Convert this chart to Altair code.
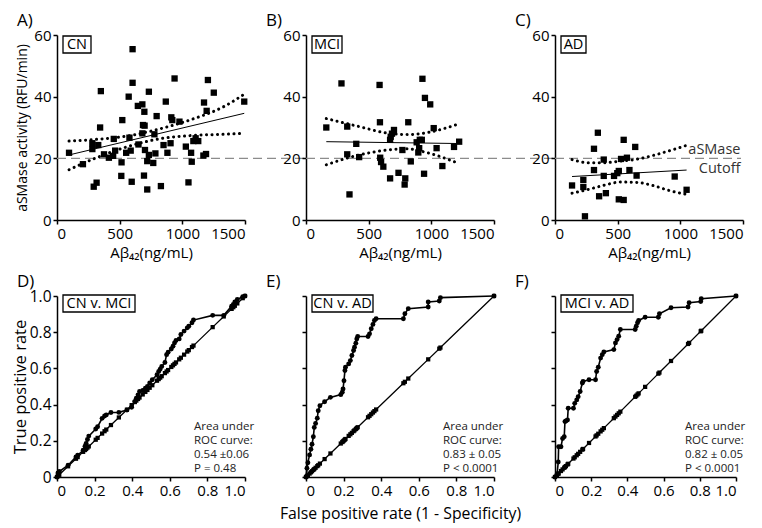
import altair as alt
import pandas as pd

FONT = "Open Sans"

# ---------------- top row: aSMase activity vs Abeta42 ----------------
cn_abeta = [96, 207, 293, 316, 282, 282, 329, 344, 350, 375, 414, 448, 453, 464, 521, 515,
            513, 552, 578, 572, 588, 596, 603, 603, 645, 650, 681, 681, 686, 697, 702, 699,
            694, 720, 720, 733, 733, 768, 777, 785, 795, 829, 850, 868, 881, 906, 912, 920,
            938, 977, 1028, 1049, 1070, 1075, 1088, 1106, 1127, 1168, 1189, 1173, 1194, 1204,
            1251, 1494]
cn_asm = [21.8, 18.1, 10.8, 12.1, 24.9, 23.0, 24.3, 30.0, 41.8, 21.3, 20.2, 20.8, 26.3, 22.5,
          32.4, 18.7, 14.3, 21.8, 26.7, 40.0, 22.5, 12.4, 55.4, 44.5, 37.0, 24.5, 37.5, 28.1,
          30.8, 35.1, 22.7, 30.6, 14.4, 9.9, 19.1, 41.6, 21.1, 18.5, 27.8, 21.6, 33.7, 11.0,
          24.3, 38.4, 21.8, 24.9, 33.3, 32.4, 45.9, 31.9, 23.8, 12.2, 21.8, 18.9, 25.6, 26.5,
          25.6, 20.9, 21.4, 38.1, 35.4, 45.4, 41.3, 38.4]
cn_ci_x = [96, 297, 556, 815, 1073, 1332, 1494]
cn_ci_up = [25.6, 26.1, 27.2, 29.5, 32.6, 36.8, 40.8]
cn_ci_lo = [16.3, 19.9, 23.7, 26.3, 27.4, 27.8, 28.1]
cn_fit_x = [96, 1494]
cn_fit_y = [21.1, 34.6]

mci_abeta = [162, 283, 329, 329, 347, 401, 424, 587, 590, 592, 599, 617, 671, 671, 676, 686,
             702, 738, 769, 792, 787, 816, 836, 883, 896, 903, 908, 924, 929, 942, 949, 991,
             1019, 1042, 1088, 1181, 1222]
mci_asm = [30.0, 44.3, 30.3, 21.3, 8.3, 24.7, 20.4, 43.8, 31.7, 20.2, 18.8, 17.3, 13.5, 26.0,
           27.0, 28.0, 29.2, 15.3, 22.7, 13.5, 11.5, 31.7, 19.0, 25.2, 21.9, 23.3, 26.0, 26.0,
           45.8, 15.0, 39.6, 37.5, 29.8, 23.3, 17.5, 23.7, 25.4]
mci_ci_x = [162, 394, 651, 805, 960, 1222]
mci_ci_up = [32.9, 30.6, 28.2, 27.7, 28.3, 31.2]
mci_ci_lo = [17.9, 20.8, 22.7, 23.1, 21.9, 18.3]
mci_fit_x = [162, 1222]
mci_fit_y = [25.4, 24.8]

ad_abeta = [136, 226, 226, 239, 311, 311, 342, 352, 389, 389, 406, 471, 497, 509, 509, 527,
            548, 548, 574, 594, 640, 651, 955, 1050]
ad_asm = [11.2, 13.0, 10.7, 1.2, 23.1, 16.2, 28.3, 7.7, 19.6, 14.3, 8.7, 14.3, 15.2, 15.9,
          6.7, 19.8, 26.0, 6.5, 20.2, 16.2, 23.7, 14.4, 14.1, 9.8]
ad_ci_x = [136, 265, 394, 522, 651, 780, 908, 1050]
ad_ci_up = [19.6, 18.6, 18.6, 19.1, 19.7, 20.9, 22.4, 24.2]
ad_ci_lo = [8.7, 9.9, 11.3, 12.3, 12.2, 11.2, 9.6, 8.3]
ad_fit_x = [136, 1050]
ad_fit_y = [14.1, 16.2]

cutoff_value = 20
cutoff_labels = ["aSMase", "Cutoff"]
cutoff_label_y = [22.6, 16.4]
cutoff_label_x = [1480, 1480]

# ---------------- bottom row: ROC curves ----------------
d_fpr = [0, 0.005, 0.012, 0.059, 0.101, 0.110, 0.139, 0.149, 0.155, 0.162, 0.169, 0.206, 0.216,
         0.240, 0.253, 0.262, 0.287, 0.329, 0.372, 0.397, 0.414, 0.422, 0.431, 0.439, 0.456,
         0.470, 0.481, 0.493, 0.507, 0.532, 0.541, 0.549, 0.557, 0.574, 0.583, 0.591, 0.608,
         0.617, 0.625, 0.633, 0.650, 0.659, 0.676, 0.693, 0.701, 0.718, 0.726, 0.828, 0.887,
         0.929, 0.938, 0.946, 0.959, 0.988, 1.0]
d_tpr = [0, 0.022, 0.030, 0.065, 0.111, 0.120, 0.148, 0.170, 0.185, 0.207, 0.226, 0.265, 0.278,
         0.324, 0.337, 0.343, 0.356, 0.357, 0.370, 0.385, 0.417, 0.435, 0.454, 0.472, 0.478,
         0.491, 0.500, 0.519, 0.537, 0.565, 0.583, 0.596, 0.611, 0.633, 0.676, 0.689, 0.707,
         0.722, 0.741, 0.754, 0.763, 0.787, 0.806, 0.824, 0.833, 0.852, 0.867, 0.893, 0.893,
         0.944, 0.954, 0.967, 0.981, 0.996, 1.0]

e_fpr = [0, 0.005, 0.010, 0.019, 0.026, 0.032, 0.039, 0.044, 0.051, 0.060, 0.065, 0.074, 0.099,
         0.130, 0.185, 0.193, 0.197, 0.202, 0.207, 0.210, 0.227, 0.236, 0.244, 0.253, 0.258,
         0.265, 0.270, 0.275, 0.330, 0.338, 0.347, 0.356, 0.364, 0.373, 0.518, 0.526, 0.544,
         0.650, 0.650, 0.709, 0.715, 1.0]
e_tpr = [0, 0.048, 0.079, 0.122, 0.153, 0.181, 0.222, 0.274, 0.296, 0.325, 0.366, 0.394, 0.416,
         0.440, 0.455, 0.468, 0.486, 0.532, 0.588, 0.606, 0.625, 0.643, 0.671, 0.699, 0.717,
         0.739, 0.763, 0.776, 0.776, 0.791, 0.819, 0.843, 0.865, 0.874, 0.874, 0.902, 0.930,
         0.939, 0.967, 0.972, 0.991, 1.0]

f_fpr = [0, 0.011, 0.018, 0.020, 0.033, 0.042, 0.051, 0.055, 0.060, 0.069, 0.073, 0.102, 0.109,
         0.120, 0.128, 0.139, 0.151, 0.155, 0.188, 0.224, 0.230, 0.239, 0.252, 0.261, 0.270,
         0.325, 0.334, 0.343, 0.352, 0.361, 0.443, 0.449, 0.456, 0.462, 0.498, 0.571, 0.577,
         0.641, 0.735, 0.741, 0.805, 0.808, 1.0]
f_tpr = [0, 0.013, 0.083, 0.167, 0.167, 0.213, 0.222, 0.306, 0.309, 0.315, 0.380, 0.380, 0.407,
         0.426, 0.444, 0.472, 0.519, 0.528, 0.537, 0.537, 0.583, 0.606, 0.657, 0.676, 0.691,
         0.704, 0.741, 0.759, 0.778, 0.815, 0.815, 0.833, 0.852, 0.865, 0.883, 0.883, 0.902,
         0.935, 0.939, 0.963, 0.969, 0.985, 1.0]

roc_notes = [
    ["Area under", "ROC curve:", "0.54 \u00b10.06", "P = 0.48"],
    ["Area under", "ROC curve:", "0.83 \u00b1 0.05", "P < 0.0001"],
    ["Area under", "ROC curve:", "0.82 \u00b1 0.05", "P < 0.0001"],
]
panel_letters = ["A)", "B)", "C)", "D)", "E)", "F)"]
group_labels = ["CN", "MCI", "AD", "CN v. MCI", "CN v. AD", "MCI v. AD"]

X_TITLE_TOP = "A\u03b2\u2084\u2082(ng/mL)"
Y_TITLE_TOP = "aSMase activity (RFU/min)"
X_TITLE_BOT = "False positive rate (1 - Specificity)"
Y_TITLE_BOT = "True positive rate"

# ---------------- layout / style ----------------
W = 188
W_F = 181
H_TOP = 185
H_BOT = 181
GAP_X = 61
GAP_Y = 76
BOX_W = {"CN": 28, "MCI": 30, "AD": 25, "CN v. MCI": 72, "CN v. AD": 61, "MCI v. AD": 72}
NOTE_Y = [131, 145, 159, 173]

one = pd.DataFrame({"k": [0]})


def letter_layer(letter):
    return alt.Chart(one).mark_text(
        align="left", baseline="top", font=FONT, fontSize=17, color="black"
    ).encode(x=alt.value(-40), y=alt.value(-22), text=alt.value(letter))


def box_layers(label, top):
    bw = BOX_W[label]
    rect = alt.Chart(one).mark_rect(fill="white", stroke="black", strokeWidth=1.3).encode(
        x=alt.value(6), x2=alt.value(6 + bw), y=alt.value(top), y2=alt.value(top + 17)
    )
    txt = alt.Chart(one).mark_text(
        align="center", baseline="middle", font=FONT, fontSize=14.5, color="black"
    ).encode(x=alt.value(6 + bw / 2), y=alt.value(top + 9), text=alt.value(label))
    return rect + txt


def scatter_panel(idx, xs, ys, cx, cu, cl, fx, fy, rule_x2, ytitle):
    X = alt.X("x:Q", scale=alt.Scale(domain=[0, 1500], nice=False),
              axis=alt.Axis(values=[0, 500, 1000, 1500], format="d", title=X_TITLE_TOP,
                            titlePadding=4, labelFontSize=15, titleFontSize=15))
    Y = alt.Y("y:Q", scale=alt.Scale(domain=[0, 60], nice=False),
              axis=alt.Axis(values=[0, 20, 40, 60], title=ytitle, titlePadding=4,
                            labelFontSize=15, titleFontSize=14))
    pts = pd.DataFrame({"x": xs, "y": ys})
    ci = pd.DataFrame({"x": cx + cx, "y": cu + cl,
                       "band": ["upper"] * len(cx) + ["lower"] * len(cx)})
    fit = pd.DataFrame({"x": fx, "y": fy})
    rule_df = pd.DataFrame({"y": [cutoff_value]})

    rule = alt.Chart(rule_df).mark_rule(
        color="#8c8c8c", strokeDash=[9, 5], strokeWidth=1.3
    ).encode(y=Y, x=alt.value(0), x2=alt.value(rule_x2))
    ci_l = alt.Chart(ci).mark_line(
        color="black", strokeDash=[0.1, 5.4], strokeWidth=3, strokeCap="round",
        interpolate="monotone"
    ).encode(x=X, y=Y, detail="band:N")
    fit_l = alt.Chart(fit).mark_line(color="black", strokeWidth=1).encode(x=X, y=Y)
    pts_l = alt.Chart(pts).mark_square(size=40, color="black", opacity=1).encode(x=X, y=Y)
    layers = [rule, ci_l, fit_l, pts_l, box_layers(group_labels[idx], 1),
              letter_layer(panel_letters[idx])]
    if idx == 2:
        lab = pd.DataFrame({"x": cutoff_label_x, "y": cutoff_label_y, "t": cutoff_labels})
        layers.append(
            alt.Chart(lab).mark_text(align="right", baseline="middle", font=FONT,
                                     fontSize=14.5, color="#333333")
            .encode(x=X, y=Y, text="t:N")
        )
    return alt.layer(*layers).properties(width=W, height=H_TOP)


def roc_panel(idx, fpr, tpr, note, width, xtitle, ytitle, ylabels):
    lab_expr = "datum.value == 0 ? '0' : format(datum.value, '.1f')"
    X = alt.X("x:Q", scale=alt.Scale(domain=[0, 1], nice=False),
              axis=alt.Axis(values=[0, 0.2, 0.4, 0.6, 0.8, 1.0], title=xtitle, titlePadding=8,
                            labelFontSize=15, titleFontSize=15.8, labelExpr=lab_expr))
    Y = alt.Y("y:Q", scale=alt.Scale(domain=[0, 1], nice=False),
              axis=alt.Axis(values=[0, 0.2, 0.4, 0.6, 0.8, 1.0], title=ytitle, titlePadding=1,
                            labels=ylabels, labelFontSize=15.5, titleFontSize=16.5,
                            labelExpr=lab_expr))
    roc = pd.DataFrame({"x": fpr, "y": tpr, "i": list(range(len(fpr)))})
    ux = sorted(set(fpr))
    diag = pd.DataFrame({"x": ux, "y": ux})

    diag_l = alt.Chart(diag).mark_line(color="black", strokeWidth=1.3).encode(x=X, y=Y)
    diag_p = alt.Chart(diag).mark_square(size=18, color="black", opacity=1).encode(x=X, y=Y)
    roc_l = alt.Chart(roc).mark_line(color="black", strokeWidth=1.6).encode(
        x=X, y=Y, order="i:Q")
    roc_p = alt.Chart(roc).mark_circle(size=24, color="black", opacity=1).encode(x=X, y=Y)
    note_layers = [
        alt.Chart(one).mark_text(
            align="left", baseline="middle", font=FONT, fontSize=11.5, color="#222222"
        ).encode(x=alt.value(width - 51), y=alt.value(ny), text=alt.value(line))
        for line, ny in zip(note, NOTE_Y)
    ]
    return alt.layer(
        diag_l, diag_p, roc_l, roc_p, *note_layers,
        box_layers(group_labels[idx], -1), letter_layer(panel_letters[idx])
    ).properties(width=width, height=H_BOT)


pA = scatter_panel(0, cn_abeta, cn_asm, cn_ci_x, cn_ci_up, cn_ci_lo, cn_fit_x, cn_fit_y,
                   W + GAP_X, Y_TITLE_TOP)
pB = scatter_panel(1, mci_abeta, mci_asm, mci_ci_x, mci_ci_up, mci_ci_lo, mci_fit_x, mci_fit_y,
                   W + GAP_X, None)
pC = scatter_panel(2, ad_abeta, ad_asm, ad_ci_x, ad_ci_up, ad_ci_lo, ad_fit_x, ad_fit_y,
                   W - 2, None)
pD = roc_panel(3, d_fpr, d_tpr, roc_notes[0], W, None, Y_TITLE_BOT, True)
pE = roc_panel(4, e_fpr, e_tpr, roc_notes[1], W, X_TITLE_BOT, None, False)
pF = roc_panel(5, f_fpr, f_tpr, roc_notes[2], W_F, None, None, False)

chart = alt.concat(
    pA, pB, pC, pD, pE, pF, columns=3,
    spacing={"row": GAP_Y, "column": GAP_X}, bounds="flush"
).properties(
    padding={"left": 4, "top": 4, "right": 0, "bottom": 4}
).configure_view(
    strokeWidth=0
).configure_axis(
    domainColor="black", domainWidth=1.5, tickColor="black", tickWidth=1.5, tickSize=4,
    labelPadding=2, labelFont=FONT, labelColor="black",
    titleFont=FONT, titleFontWeight="normal", titleColor="black",
    grid=False
)

chart.save("out.html", embed_options={"renderer": "svg", "actions": False})
